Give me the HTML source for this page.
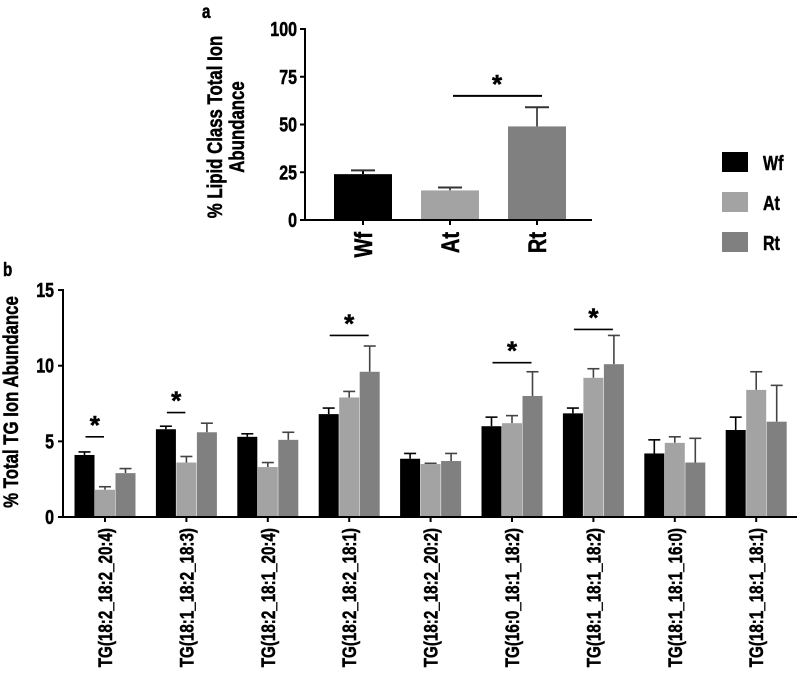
<!DOCTYPE html>
<html><head><meta charset="utf-8"><style>
body{margin:0;background:#fff}
svg{display:block;font-family:"Liberation Sans",Arial,sans-serif;font-weight:bold}
svg text{stroke:#000;stroke-width:0.5px}
</style></head><body>
<svg id="c" width="797" height="681" viewBox="0 0 797 681" xmlns="http://www.w3.org/2000/svg"></svg>
<script>
const topCats=["Wf","At","Rt"];
const topVals=[24,15.5,49];
const topErr=[26,17,59];
const topTicks=[0,25,50,75,100];
const cats=["TG(18:2_18:2_20:4)","TG(18:1_18:2_18:3)","TG(18:2_18:1_20:4)","TG(18:2_18:2_18:1)","TG(18:2_18:2_20:2)","TG(16:0_18:1_18:2)","TG(18:1_18:1_18:2)","TG(18:1_18:1_16:0)","TG(18:1_18:1_18:1)"];
const wf=[4.1,5.8,5.3,6.8,3.85,6.0,6.85,4.2,5.75];
const wfErr=[4.3,6.0,5.5,7.2,4.2,6.6,7.2,5.1,6.6];
const at=[1.8,3.6,3.3,7.9,3.5,6.2,9.2,4.9,8.4];
const atErr=[2.0,4.0,3.6,8.3,3.55,6.7,9.8,5.3,9.6];
const rt=[2.9,5.6,5.1,9.6,3.7,8.0,10.1,3.6,6.3];
const rtErr=[3.2,6.2,5.6,11.3,4.2,9.6,12.0,5.2,8.7];
const bTicks=[0,5,10,15];
const sig=[[0,0,1,5.3],[1,0,1,6.9],[3,0,2,12.0],[5,0,2,10.2],[6,0,2,12.4]];
const colors=["#000000","#a3a3a3","#808080"];
const svg=document.getElementById('c');
const NS="http://www.w3.org/2000/svg";
function el(t,a,txt){const e=document.createElementNS(NS,t);for(const k in a)e.setAttribute(k,a[k]);if(txt!==undefined)e.textContent=txt;svg.appendChild(e);return e;}
function txt(x,y,rot,size,anchor,s){return el('text',{x:0,y:0,transform:`translate(${x},${y})${rot?' rotate(-90)':''} scale(0.8,1)`,'text-anchor':anchor,'font-size':size},s);}
// top chart
const ty=v=>220-v*1.91;
const tx=i=>363+i*87;
let e=txt(202,18,false,19,'start','a');

topTicks.forEach(t=>{
 let l=el('line',{x1:300,x2:305,y1:ty(t),y2:ty(t),stroke:'#000','stroke-width':2});
 
 let x=txt(297,ty(t)+7,false,20,'end',t);
 
});
topCats.forEach((c,i)=>{
 let ex=el('line',{x1:tx(i),x2:tx(i),y1:ty(topVals[i]),y2:ty(topErr[i]),stroke:i==0?'#000':'#555','stroke-width':2});
 
 let ec=el('line',{x1:tx(i)-12,x2:tx(i)+12,y1:ty(topErr[i]),y2:ty(topErr[i]),stroke:'#333','stroke-width':2});
 
 let r=el('rect',{x:tx(i)-29,y:ty(topVals[i]),width:58,height:220-ty(topVals[i]),fill:colors[i]});
 
 let t=txt(tx(i)+9,232,true,25,'end',c);
 
 let tk=el('line',{x1:tx(i),x2:tx(i),y1:220,y2:225,stroke:'#000','stroke-width':2});
 
});
e=el('line',{x1:305,x2:305,y1:28,y2:221,stroke:'#000','stroke-width':2});
e=el('line',{x1:304,x2:592,y1:220,y2:220,stroke:'#000','stroke-width':2});
e=el('line',{x1:453,x2:542,y1:ty(65),y2:ty(65),stroke:'#000','stroke-width':2});
e=el('text',{x:497,y:ty(65)-3,'text-anchor':'middle','font-size':26},'*');
e=txt(222,127,true,21,'middle','% Lipid Class Total Ion');
e=txt(244,127,true,21,'middle','Abundance');
// legend
topCats.forEach((c,i)=>{
 let r=el('rect',{x:722,y:152+i*40,width:26,height:20,fill:colors[i]});
 
 let t=txt(763,170+i*40,false,20,'start',c);
 
});
// bottom chart
const by=v=>517-v*15.13;
const bx=i=>105+i*81.4;
e=txt(3,276,false,19,'start','b');
bTicks.forEach(t=>{
 let l=el('line',{x1:58,x2:63,y1:by(t),y2:by(t),stroke:'#000','stroke-width':2});
 
 let x=txt(54,by(t)+7,false,20,'end',t);
 
});
const series=[wf,at,rt],errs=[wfErr,atErr,rtErr],sn=['wf','at','rt'];
cats.forEach((c,i)=>{
 series.forEach((s,k)=>{
  const cx=bx(i)+(k-1)*20.5;
  let ex=el('line',{x1:cx,x2:cx,y1:by(s[i]),y2:by(errs[k][i]),stroke:k==0?'#000':'#444','stroke-width':1.6});
  
  let ec=el('line',{x1:cx-6,x2:cx+6,y1:by(errs[k][i]),y2:by(errs[k][i]),stroke:k==0?'#000':'#444','stroke-width':1.6});
  
  let r=el('rect',{x:cx-10,y:by(s[i]),width:20,height:517-by(s[i]),fill:colors[k]});
  
 });
 let tk=el('line',{x1:bx(i),x2:bx(i),y1:517,y2:522,stroke:'#000','stroke-width':2});
 
 let t=txt(bx(i)+7,528,true,19,'end',c);
 
});
sig.forEach(s=>{
 const x1=bx(s[0])+(s[1]-1)*20.5+1,x2=bx(s[0])+(s[2]-1)*20.5-1;
 let l=el('line',{x1:x1,x2:x2,y1:by(s[3]),y2:by(s[3]),stroke:'#000','stroke-width':1.6});
 
 let t=el('text',{x:(x1+x2)/2,y:by(s[3])-3,'text-anchor':'middle','font-size':26},'*');
 
});
e=el('line',{x1:63,x2:63,y1:289,y2:518,stroke:'#000','stroke-width':2});
e=el('line',{x1:62,x2:797,y1:517,y2:517,stroke:'#000','stroke-width':2});
e=txt(18,402,true,21,'middle','% Total TG Ion Abundance');
</script>
</body></html>
